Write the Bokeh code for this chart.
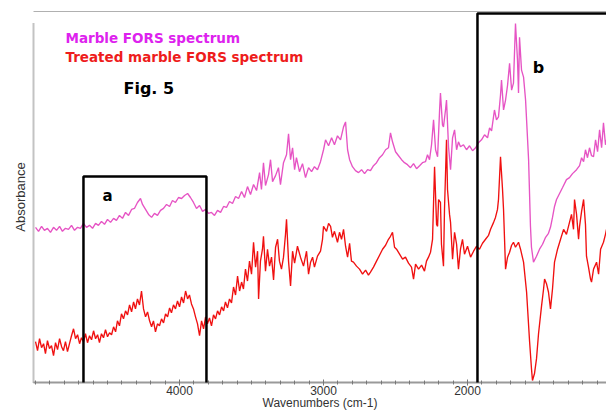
from bokeh.plotting import figure
from bokeh.models import Range1d, LinearAxis, FixedTicker, Label, BoxAnnotation
from bokeh.embed import file_html
from bokeh.resources import INLINE
import numpy as np

# ---- data (wavenumber cm-1, absorbance a.u.) ----
marble_wn = [5000, 4979, 4958, 4938, 4917, 4896, 4875, 4854, 4833, 4813, 4792, 4771, 4750, 4729, 4708, 4688,
             4667, 4646, 4625, 4604, 4583, 4563, 4542, 4521, 4500, 4479, 4458, 4438, 4417, 4396, 4375, 4354,
             4333, 4313, 4292, 4271, 4257, 4236, 4215, 4194, 4174, 4153, 4132, 4111, 4090, 4069, 4049, 4028,
             4007, 3986, 3965, 3944, 3924, 3903, 3882, 3861, 3840, 3819, 3799, 3778, 3757, 3736, 3715, 3694,
             3674, 3653, 3632, 3611, 3590, 3569, 3549, 3528, 3507, 3486, 3465, 3444, 3431, 3417, 3403, 3382,
             3368, 3354, 3333, 3313, 3299, 3278, 3257, 3243, 3229, 3215, 3201, 3188, 3167, 3146, 3125, 3104,
             3083, 3063, 3042, 3021, 3000, 2986, 2965, 2944, 2924, 2903, 2882, 2861, 2847, 2833, 2819, 2799,
             2778, 2757, 2736, 2715, 2694, 2674, 2653, 2632, 2611, 2590, 2569, 2549, 2535, 2521, 2500, 2479,
             2458, 2438, 2417, 2396, 2375, 2354, 2333, 2313, 2292, 2278, 2264, 2250, 2236, 2222, 2208, 2194,
             2188, 2174, 2167, 2153, 2146, 2132, 2118, 2104, 2090, 2076, 2063, 2049, 2028, 2007, 1986, 1965,
             1944, 1924, 1903, 1882, 1861, 1847, 1833, 1813, 1799, 1785, 1771, 1764, 1750, 1736, 1722, 1708,
             1694, 1681, 1667, 1653, 1646, 1639, 1625, 1611, 1597, 1583, 1576, 1563, 1556, 1542, 1521, 1500,
             1479, 1458, 1438, 1424, 1410, 1396, 1382, 1361, 1340, 1313, 1292, 1271, 1243, 1222, 1208, 1194,
             1181, 1167, 1153, 1139, 1125, 1111, 1097, 1083, 1069, 1056, 1042, 1035]
marble_abs = [0.780, 0.760, 0.785, 0.765, 0.775, 0.755, 0.780, 0.765, 0.785, 0.760, 0.775, 0.770, 0.790, 0.765, 0.780, 0.775,
              0.800, 0.780, 0.790, 0.775, 0.800, 0.790, 0.810, 0.795, 0.820, 0.805, 0.825, 0.815, 0.840, 0.825, 0.855, 0.840,
              0.870, 0.875, 0.905, 0.925, 0.895, 0.870, 0.845, 0.830, 0.850, 0.840, 0.865, 0.875, 0.895, 0.885, 0.915, 0.905,
              0.930, 0.925, 0.940, 0.950, 0.930, 0.905, 0.875, 0.890, 0.860, 0.870, 0.850, 0.855, 0.840, 0.865, 0.855, 0.885,
              0.880, 0.910, 0.900, 0.935, 0.925, 0.960, 0.930, 0.985, 0.945, 0.995, 0.965, 1.055, 0.970, 1.105, 0.990, 1.045,
              1.120, 1.010, 1.040, 1.080, 0.995, 1.105, 1.145, 1.250, 1.120, 1.180, 1.070, 1.130, 1.060, 1.100, 1.030, 1.080,
              1.060, 1.085, 1.070, 1.110, 1.170, 1.220, 1.190, 1.230, 1.195, 1.240, 1.220, 1.285, 1.310, 1.170, 1.120, 1.085,
              1.065, 1.055, 1.070, 1.050, 1.070, 1.065, 1.090, 1.105, 1.130, 1.145, 1.170, 1.180, 1.255, 1.210, 1.160, 1.140,
              1.120, 1.105, 1.095, 1.080, 1.100, 1.075, 1.090, 1.105, 1.110, 1.145, 1.120, 1.195, 1.320, 1.170, 1.135, 1.370,
              1.455, 1.295, 1.285, 1.370, 1.420, 1.185, 1.070, 1.230, 1.270, 1.170, 1.210, 1.185, 1.195, 1.170, 1.190, 1.165,
              1.180, 1.205, 1.220, 1.245, 1.230, 1.280, 1.265, 1.370, 1.320, 1.335, 1.445, 1.520, 1.370, 1.420, 1.495, 1.605,
              1.470, 1.505, 1.805, 1.620, 1.455, 1.735, 1.570, 1.535, 1.420, 1.220, 1.120, 0.785, 0.680, 0.605, 0.635, 0.670,
              0.695, 0.730, 0.750, 0.780, 0.830, 0.885, 0.920, 0.950, 0.980, 1.020, 1.030, 1.050, 1.070, 1.090, 1.130, 1.110,
              1.170, 1.130, 1.180, 1.140, 1.135, 1.220, 1.160, 1.270, 1.180, 1.305, 1.195, 1.220]

treated_wn = [5000, 4986, 4972, 4958, 4944, 4931, 4917, 4903, 4889, 4875, 4861, 4847, 4833, 4819, 4806, 4792,
              4778, 4764, 4750, 4736, 4722, 4708, 4694, 4681, 4667, 4653, 4639, 4625, 4611, 4597, 4583, 4569,
              4556, 4542, 4528, 4514, 4500, 4486, 4472, 4458, 4444, 4431, 4417, 4403, 4389, 4375, 4361, 4347,
              4333, 4319, 4306, 4292, 4278, 4264, 4250, 4236, 4222, 4208, 4194, 4181, 4167, 4153, 4139, 4125,
              4111, 4097, 4083, 4069, 4056, 4042, 4028, 4014, 4000, 3986, 3972, 3958, 3944, 3931, 3917, 3903,
              3889, 3875, 3861, 3847, 3833, 3819, 3806, 3792, 3778, 3764, 3750, 3736, 3722, 3708, 3694, 3681,
              3667, 3653, 3639, 3625, 3611, 3597, 3583, 3569, 3556, 3542, 3528, 3514, 3500, 3486, 3472, 3458,
              3451, 3438, 3424, 3417, 3403, 3389, 3375, 3361, 3347, 3333, 3319, 3306, 3292, 3278, 3264, 3257,
              3243, 3229, 3215, 3201, 3181, 3160, 3139, 3118, 3104, 3090, 3076, 3063, 3042, 3021, 3007, 3000,
              2979, 2965, 2951, 2938, 2924, 2903, 2889, 2875, 2861, 2847, 2833, 2819, 2806, 2792, 2771, 2750,
              2729, 2708, 2688, 2674, 2653, 2632, 2611, 2590, 2569, 2549, 2535, 2521, 2507, 2493, 2472, 2451,
              2431, 2410, 2389, 2375, 2361, 2340, 2319, 2299, 2285, 2271, 2257, 2243, 2229, 2215, 2208, 2201,
              2188, 2181, 2167, 2160, 2146, 2139, 2125, 2118, 2104, 2090, 2076, 2063, 2049, 2035, 2021, 2000,
              1979, 1958, 1938, 1917, 1896, 1875, 1854, 1840, 1819, 1806, 1792, 1785, 1771, 1757, 1750, 1743,
              1736, 1722, 1708, 1694, 1681, 1667, 1646, 1632, 1611, 1590, 1569, 1556, 1549, 1535, 1521, 1507,
              1486, 1472, 1465, 1451, 1438, 1424, 1410, 1396, 1375, 1354, 1333, 1313, 1292, 1278, 1264, 1257,
              1243, 1229, 1222, 1208, 1194, 1181, 1174, 1160, 1146, 1139, 1125, 1104, 1090, 1076, 1056, 1042, 1035]
treated_abs = [0.205, 0.160, 0.220, 0.175, 0.195, 0.145, 0.210, 0.170, 0.185, 0.135, 0.200, 0.165, 0.220, 0.180, 0.160, 0.205,
               0.155, 0.195, 0.235, 0.270, 0.220, 0.240, 0.195, 0.225, 0.205, 0.245, 0.200, 0.235, 0.215, 0.260, 0.220, 0.240,
               0.200, 0.245, 0.225, 0.265, 0.230, 0.250, 0.240, 0.280, 0.255, 0.310, 0.285, 0.345, 0.320, 0.360, 0.340, 0.390,
               0.355, 0.405, 0.370, 0.420, 0.390, 0.460, 0.370, 0.330, 0.355, 0.310, 0.280, 0.310, 0.255, 0.295, 0.285, 0.320,
               0.300, 0.345, 0.330, 0.375, 0.350, 0.390, 0.370, 0.410, 0.380, 0.430, 0.400, 0.460, 0.420, 0.440, 0.395, 0.370,
               0.330, 0.295, 0.235, 0.310, 0.270, 0.330, 0.295, 0.325, 0.285, 0.340, 0.320, 0.360, 0.340, 0.380, 0.360, 0.405,
               0.375, 0.420, 0.400, 0.480, 0.440, 0.535, 0.460, 0.505, 0.470, 0.570, 0.510, 0.610, 0.545, 0.705, 0.580, 0.660,
               0.420, 0.610, 0.670, 0.735, 0.560, 0.670, 0.585, 0.630, 0.515, 0.680, 0.720, 0.610, 0.570, 0.630, 0.745, 0.820,
               0.610, 0.485, 0.660, 0.600, 0.685, 0.630, 0.585, 0.660, 0.545, 0.605, 0.630, 0.580, 0.635, 0.660, 0.720, 0.785,
               0.760, 0.800, 0.785, 0.730, 0.760, 0.705, 0.755, 0.720, 0.770, 0.685, 0.630, 0.700, 0.610, 0.605, 0.585, 0.570,
               0.545, 0.565, 0.540, 0.555, 0.580, 0.610, 0.640, 0.670, 0.690, 0.720, 0.735, 0.755, 0.680, 0.670, 0.645, 0.620,
               0.630, 0.600, 0.580, 0.520, 0.595, 0.570, 0.590, 0.560, 0.610, 0.630, 0.655, 0.720, 1.085, 0.795, 0.785, 0.920,
               0.905, 0.695, 0.585, 0.870, 1.220, 0.970, 0.845, 0.805, 0.620, 0.755, 0.695, 0.570, 0.670, 0.720, 0.645, 0.685,
               0.630, 0.660, 0.685, 0.670, 0.700, 0.720, 0.740, 0.770, 0.805, 0.830, 0.870, 0.920, 1.135, 0.970, 0.870, 0.720,
               0.570, 0.630, 0.655, 0.690, 0.705, 0.680, 0.705, 0.670, 0.605, 0.455, 0.205, 0.070, 0.010, 0.045, 0.120, 0.245,
               0.385, 0.470, 0.520, 0.495, 0.455, 0.370, 0.470, 0.605, 0.670, 0.720, 0.770, 0.745, 0.805, 0.845, 0.770, 0.920,
               0.845, 0.720, 0.785, 0.860, 0.920, 0.795, 0.635, 0.580, 0.520, 0.505, 0.570, 0.605, 0.545, 0.670, 0.705, 0.745, 0.770]

x_ticks = [4000, 3000, 2000]
legend_texts = ["Marble FORS spectrum", "Treated marble FORS spectrum"]

MAGENTA_LINE = "#e654c4"
RED_LINE = "#f01010"

p = figure(width=606, height=412, output_backend="svg", toolbar_location=None,
           x_range=Range1d(5014, 1035), y_range=Range1d(0, 1.865),
           min_border_left=33, min_border_right=0, min_border_top=11, min_border_bottom=28,
           x_axis_location="below", y_axis_location="left")
p.outline_line_color = None
p.grid.visible = False
p.background_fill_color = "white"
p.border_fill_color = "white"

p.line(marble_wn, marble_abs, line_color=MAGENTA_LINE, line_width=1.35)
p.line(treated_wn, treated_abs, line_color=RED_LINE, line_width=1.35)

# x axis
xa = p.xaxis[0]
xa.ticker = FixedTicker(ticks=x_ticks, minor_ticks=list(np.arange(1100, 5001, 100)))
xa.axis_line_color = "#9a9a9a"
xa.axis_line_width = 2
xa.major_tick_line_color = "#777777"
xa.minor_tick_line_color = "#777777"
xa.major_tick_in = 3
xa.major_tick_out = 3
xa.minor_tick_in = 2
xa.minor_tick_out = 2
xa.major_label_standoff = 0
xa.major_label_text_font = "Liberation Sans"
xa.major_label_text_font_size = "12px"
xa.major_label_text_color = "#333333"
xa.axis_label = "Wavenumbers (cm-1)"
xa.axis_label_text_font = "Liberation Sans"
xa.axis_label_text_font_style = "normal"
xa.axis_label_text_font_size = "12px"
xa.axis_label_text_color = "#333333"
xa.axis_label_standoff = -2

# y axis
ya = p.yaxis[0]
ya.ticker = FixedTicker(ticks=[], minor_ticks=[])
ya.bounds = (0, 1.81)
ya.axis_line_color = "#888888"
ya.axis_line_width = 2
ya.axis_line_dash = "1 1"
ya.major_label_text_font_size = "0px"
ya.major_tick_line_color = None
ya.minor_tick_line_color = None
ya.axis_label = "Absorbance"
ya.axis_label_text_font = "Liberation Sans"
ya.axis_label_text_font_style = "normal"
ya.axis_label_text_font_size = "13px"
ya.axis_label_text_color = "#333333"
ya.axis_label_standoff = 6

# top frame line
top = LinearAxis(ticker=FixedTicker(ticks=[], minor_ticks=[]), axis_line_color="#b0b0b0",
                 major_tick_line_color=None, minor_tick_line_color=None,
                 major_label_text_font_size="0px")
p.add_layout(top, "above")

# texts
font = "DejaVu Sans"
p.add_layout(Label(x=4792, y=1.73, text=legend_texts[0], text_color="#dd22ee", text_font=font,
                   text_font_style="bold", text_font_size="13.5px", text_baseline="middle", text_align="left"))
p.add_layout(Label(x=4792, y=1.635, text=legend_texts[1], text_color="#ee1c1c", text_font=font,
                   text_font_style="bold", text_font_size="13.5px", text_baseline="middle", text_align="left"))
p.add_layout(Label(x=4389, y=1.48, text="Fig. 5", text_color="black", text_font=font,
                   text_font_style="bold", text_font_size="16px", text_baseline="middle", text_align="left"))
p.add_layout(Label(x=4500, y=0.94, text="a", text_color="black", text_font=font,
                   text_font_style="bold", text_font_size="15px", text_baseline="middle", text_align="center"))
p.add_layout(Label(x=1507, y=1.585, text="b", text_color="black", text_font=font,
                   text_font_style="bold", text_font_size="16px", text_baseline="middle", text_align="center"))

# highlight boxes
p.add_layout(BoxAnnotation(left=4667, right=3813, top=1.035, bottom=-0.095, fill_alpha=0,
                           line_color="black", line_width=2.5, line_alpha=1, level="overlay"))
p.add_layout(BoxAnnotation(left=1931, right=900, top=1.855, bottom=-0.09, fill_alpha=0,
                           line_color="black", line_width=2.5, line_alpha=1, level="overlay"))

open("out.html", "w").write(file_html(p, INLINE))
